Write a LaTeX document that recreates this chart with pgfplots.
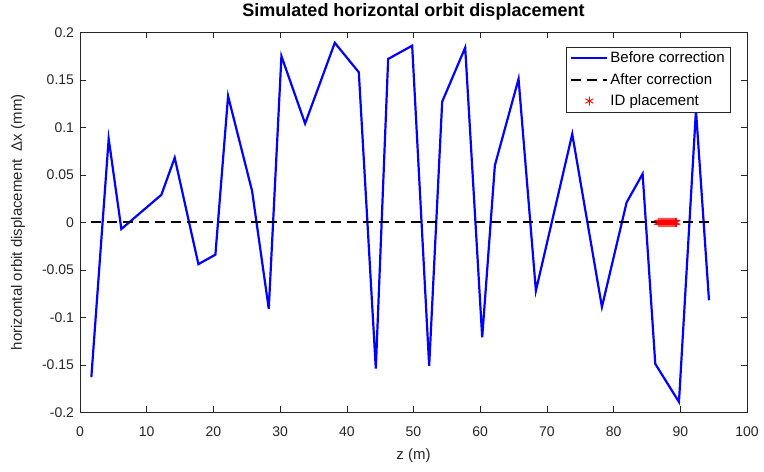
\documentclass[border=0pt]{standalone}
\usepackage{fontspec}
\setmainfont{Liberation Sans}
\usepackage{pgfplots}
\pgfplotsset{compat=1.18}
\definecolor{axgray}{rgb}{0.15,0.15,0.15}
\begin{document}
\begin{tikzpicture}
\begin{axis}[
    at={(0pt,0pt)}, anchor=south west,
    scale only axis,
    width=667pt, height=380pt,
    xmin=0, xmax=100, ymin=-0.2, ymax=0.2,
    xtick={0,10,20,30,40,50,60,70,80,90,100},
    ytick={-0.2,-0.15,-0.1,-0.05,0,0.05,0.1,0.15,0.2},
    yticklabels={-0.2,-0.15,-0.1,-0.05,0,0.05,0.1,0.15,0.2},
    /pgf/number format/assume math mode=true,
    tick align=inside,
    major tick length=6pt,
    tick style={axgray, line width=0.6pt},
    axis line style={axgray, line width=0.8pt},
    ticklabel style={font=\fontsize{14}{16}\selectfont, text=axgray},
    xticklabel style={anchor=base, yshift=-24pt},
    yticklabel style={anchor=east, xshift=-2.5pt},
    title={Simulated horizontal orbit displacement},
    title style={font=\fontsize{18}{22}\selectfont\bfseries, at={(0.5,1)}, anchor=base, yshift=10pt},
    xlabel={z (m)},
    xlabel style={font=\fontsize{15}{18}\selectfont, text=axgray, at={(0.5,0)}, anchor=base, yshift=-47pt},
    ylabel={horizontal orbit displacement\ \ Δx (mm)},
    ylabel style={font=\fontsize{15}{18}\selectfont, text=axgray, at={(0,0.5)}, anchor=center, yshift=62pt},
    legend style={at={(0.976,0.962)}, anchor=north east, draw=axgray, line width=0.6pt,
        font=\fontsize{15}{17}\selectfont, inner xsep=4pt, inner ysep=3pt, row sep=5pt,
        legend image code/.code={\draw[mark repeat=2,mark phase=2,#1] plot coordinates {(0pt,0pt) (18pt,0pt) (36pt,0pt)};}},
    legend cell align=left,
]
\addplot[blue, line width=2.2pt] coordinates {
 (1.7,-0.163) (4.3,0.088) (6.2,-0.007) (12.2,0.029) (14.2,0.068) (17.75,-0.044)
 (20.3,-0.034) (22.2,0.133) (25.8,0.033) (28.3,-0.091) (30.2,0.175) (33.75,0.104)
 (38.2,0.189) (41.8,0.158) (44.35,-0.154) (46.2,0.172) (49.8,0.186) (52.35,-0.151)
 (54.3,0.127) (57.75,0.184) (60.3,-0.121) (62.2,0.060) (65.75,0.151) (68.35,-0.072)
 (73.8,0.093) (78.25,-0.089) (81.95,0.021) (84.35,0.051) (86.25,-0.149) (89.8,-0.189)
 (92.35,0.118) (94.3,-0.082)
};
\addlegendentry{Before correction}
\addplot[black, line width=2.2pt, dash pattern=on 10pt off 6pt] coordinates {
 (1.7,0) (4.3,0) (6.2,0) (12.2,0) (14.2,0) (17.75,0)
 (20.3,0) (22.2,0) (25.8,0) (28.3,0) (30.2,0) (33.75,0)
 (38.2,0) (41.8,0) (44.35,0) (46.2,0) (49.8,0) (52.35,0)
 (54.3,0) (57.75,0) (60.3,0) (62.2,0) (65.75,0) (68.35,0)
 (73.8,0) (78.25,0) (81.95,0) (84.35,0) (86.25,0) (89.8,0)
 (92.35,0) (94.3,0)
};
\addlegendentry{After correction}
\addplot[only marks, red, mark=asterisk, mark size=4.5pt, mark options={line width=0.9pt, solid}] coordinates {
 (86.7,0) (86.85,0) (87.0,0) (87.15,0) (87.3,0) (87.45,0) (87.6,0) (87.75,0)
 (87.9,0) (88.05,0) (88.2,0) (88.35,0) (88.5,0) (88.65,0) (88.8,0) (88.95,0)
 (89.1,0) (89.25,0) (89.4,0)
};
\addlegendentry{ID placement}
\end{axis}
\path (-80pt,-59pt) rectangle (684pt,409pt);
\end{tikzpicture}
\end{document}
